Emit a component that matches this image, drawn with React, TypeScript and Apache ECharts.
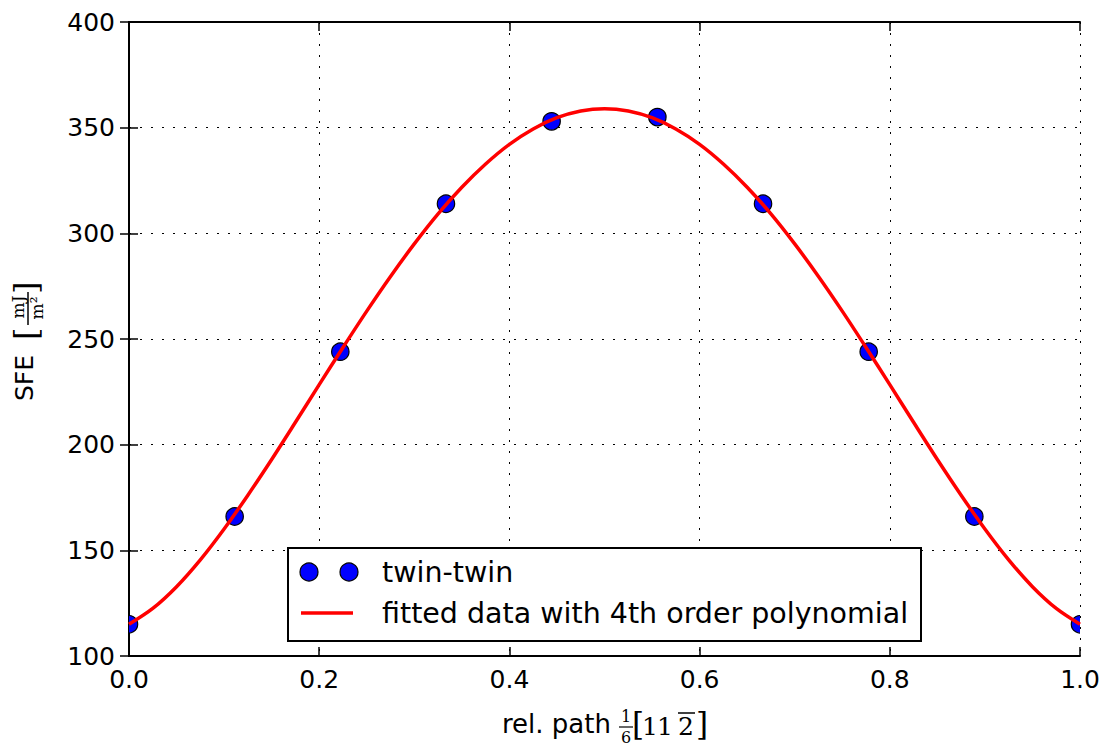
import React, { useEffect, useRef } from "react";
import * as echarts from "echarts";

const pointX = [0.0, 0.1111, 0.2222, 0.3333, 0.4444, 0.5556, 0.6667, 0.7778, 0.8889, 1.0];
const pointY = [115, 166, 244, 314, 353, 355, 314, 244, 166, 115];

const fitX = [
  0.0, 0.025, 0.05, 0.075, 0.1, 0.125, 0.15, 0.175, 0.2, 0.225, 0.25, 0.275, 0.3, 0.325, 0.35, 0.375, 0.4, 0.425, 0.45, 0.475,
  0.5, 0.525, 0.55, 0.575, 0.6, 0.625, 0.65, 0.675, 0.7, 0.725, 0.75, 0.775, 0.8, 0.825, 0.85, 0.875, 0.9, 0.925, 0.95, 0.975, 1.0,
];
const fitY = [
  115, 122.5, 132.8, 145.5, 160.1, 176.1, 193, 210.6, 228.4, 246, 263.2, 279.6, 295, 309.2, 321.8, 332.8, 342.1, 349.4, 354.7, 357.9,
  359, 357.9, 354.7, 349.4, 342.1, 332.8, 321.8, 309.2, 295, 279.6, 263.2, 246, 228.4, 210.6, 193, 176.1, 160.1, 145.5, 132.8, 122.5, 115,
];

const xTicks = { min: 0, max: 1, interval: 0.2 };
const yTicks = { min: 100, max: 400, interval: 50 };

const seriesNames = ["twin-twin", "fitted data with 4th order polynomial"];

const SANS = "DejaVu Sans";
const SERIF = "DejaVu Serif";

export default function App() {
  const ref = useRef<HTMLDivElement>(null);
  useEffect(() => {
    if (!ref.current) return;
    const chart = echarts.init(ref.current, undefined, { renderer: "svg" });
    const axisLine = { show: true, lineStyle: { color: "#000", width: 2 } };
    const tick = { show: true, inside: true, length: 9, lineStyle: { color: "#000", width: 1.5 } };
    const split = { show: true, lineStyle: { color: "#000", width: 1, type: [2, 9] as any } };
    const label = { fontFamily: SANS, fontSize: 25, color: "#000" };
    const t = (x: number, y: number, text: string, font: string, align = "left") => ({
      type: "text", x, y, z: 11,
      style: { text, font, fill: "#000", align, verticalAlign: "middle" },
    });
    chart.setOption({
      animation: false,
      backgroundColor: "#fff",
      grid: { left: 129, right: 38, top: 22, bottom: 96 },
      xAxis: [
        {
          type: "value", ...xTicks, position: "bottom",
          axisLine, axisTick: tick, splitLine: split,
          axisLabel: { ...label, margin: 11, formatter: (v: number) => v.toFixed(1) },
        },
        {
          type: "value", ...xTicks, position: "top",
          axisLine, axisTick: tick, splitLine: { show: false }, axisLabel: { show: false },
        },
      ],
      yAxis: [
        {
          type: "value", ...yTicks, position: "left",
          axisLine, axisTick: tick, splitLine: split,
          axisLabel: { ...label, margin: 14 },
        },
        {
          type: "value", ...yTicks, position: "right",
          axisLine, axisTick: tick, splitLine: { show: false }, axisLabel: { show: false },
        },
      ],
      series: [
        {
          name: seriesNames[0],
          type: "custom",
          xAxisIndex: 0, yAxisIndex: 0,
          clip: true,
          z: 2,
          data: pointX.map((x, i) => [x, pointY[i]]),
          renderItem: (_p: any, api: any) => {
            const c = api.coord([api.value(0), api.value(1)]);
            return {
              type: "circle",
              shape: { cx: c[0], cy: c[1], r: 8.7 },
              style: { fill: "#0000ff", stroke: "#000", lineWidth: 1.2 },
            };
          },
        },
        {
          name: seriesNames[1],
          type: "line",
          xAxisIndex: 0, yAxisIndex: 0,
          z: 3,
          smooth: 0.3,
          showSymbol: false,
          symbol: "none",
          lineStyle: { color: "#ff0000", width: 3.5 },
          data: fitX.map((x, i) => [x, fitY[i]]),
        },
      ],
      graphic: [
        // legend
        {
          type: "rect", z: 10,
          shape: { x: 288, y: 548, width: 633, height: 93 },
          style: { fill: "#fff", stroke: "#000", lineWidth: 2 },
        },
        { type: "circle", z: 11, shape: { cx: 309, cy: 572, r: 9 }, style: { fill: "#0000ff", stroke: "#000", lineWidth: 1.2 } },
        { type: "circle", z: 11, shape: { cx: 349, cy: 572, r: 9 }, style: { fill: "#0000ff", stroke: "#000", lineWidth: 1.2 } },
        { type: "line", z: 11, shape: { x1: 301, y1: 613, x2: 353, y2: 613 }, style: { stroke: "#ff0000", lineWidth: 3.5 } },
        t(382, 572, seriesNames[0], `28.5px "${SANS}"`),
        t(382, 613, seriesNames[1], `28.5px "${SANS}"`),
        // x axis label
        t(502, 724, "rel. path", `26px "${SANS}"`),
        t(626, 716, "1", `16px "${SERIF}"`, "center"),
        { type: "line", shape: { x1: 619, y1: 727, x2: 633, y2: 727 }, style: { stroke: "#000", lineWidth: 1.2 } },
        t(626, 737, "6", `16px "${SERIF}"`, "center"),
        t(638, 724, "[", `31px "${SERIF}"`, "center"),
        t(650, 726, "1", `25px "${SERIF}"`, "center"),
        t(665, 726, "1", `25px "${SERIF}"`, "center"),
        t(686, 726, "2", `25px "${SERIF}"`, "center"),
        { type: "line", shape: { x1: 678, y1: 713, x2: 695, y2: 713 }, style: { stroke: "#000", lineWidth: 1.5 } },
        t(702, 724, "]", `31px "${SERIF}"`, "center"),
        // y axis label (rotated)
        {
          type: "group", x: 26, y: 343, rotation: Math.PI / 2,
          children: [
            t(-58, -2, "SFE", `25px "${SANS}"`),
            t(3, 0, "[", `32px "${SERIF}"`),
            t(36, -8, "mJ", `17px "${SERIF}"`, "center"),
            { type: "line", shape: { x1: 18, y1: 2, x2: 51, y2: 2 }, style: { stroke: "#000", lineWidth: 1.5 } },
            t(35, 11, "m²", `17px "${SERIF}"`, "center"),
            t(49, 0, "]", `32px "${SERIF}"`),
          ],
        },
      ],
    });
    return () => chart.dispose();
  }, []);
  return <div ref={ref} style={{ position: "absolute", left: 0, top: 0, width: 1118, height: 752 }} />;
}
